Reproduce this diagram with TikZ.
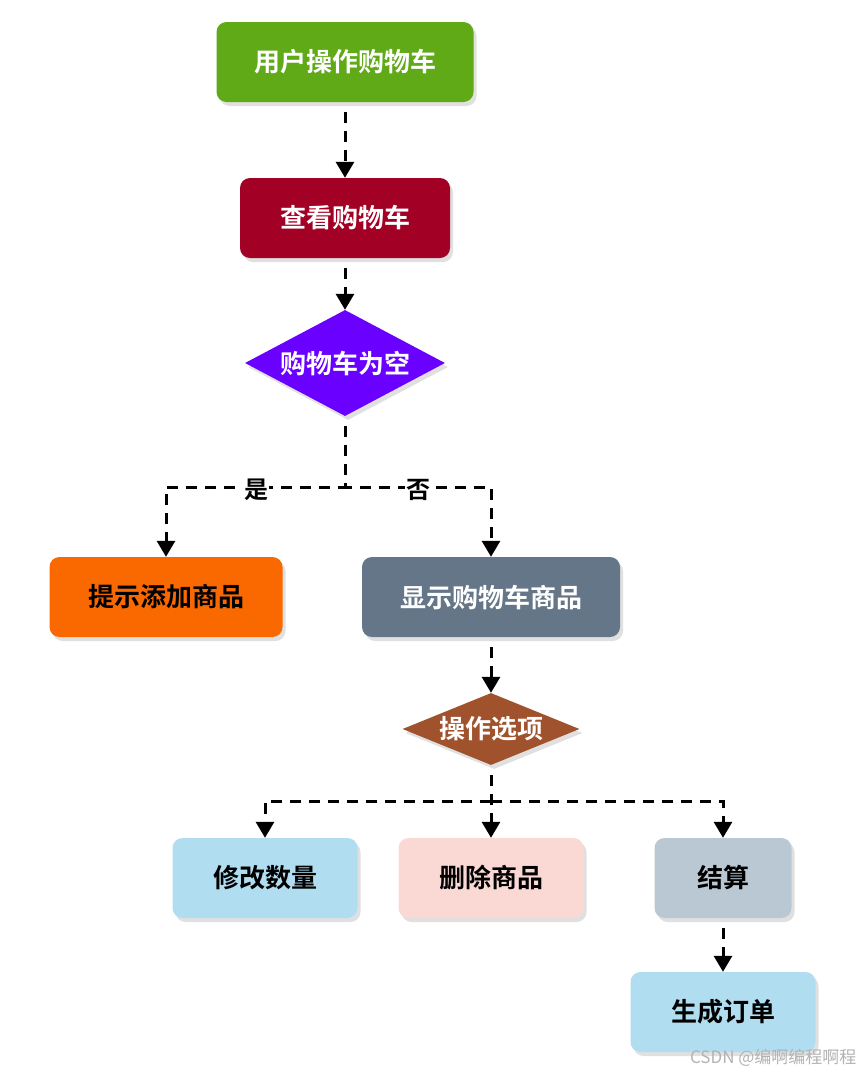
\documentclass[tikz,border=0pt]{standalone}
\usepackage{fontspec}
\setmainfont{Noto Sans CJK SC}[BoldFont={Noto Sans CJK SC Bold}]
\usetikzlibrary{shapes.geometric,shadows,arrows.meta}

\definecolor{cGreen}{HTML}{60A917}
\definecolor{cCrimson}{HTML}{A20025}
\definecolor{cViolet}{HTML}{6A00FF}
\definecolor{cOrange}{HTML}{FA6800}
\definecolor{cSlate}{HTML}{647687}
\definecolor{cSienna}{HTML}{A0522D}
\definecolor{cBlue}{HTML}{B1DDF0}
\definecolor{cPink}{HTML}{FAD9D5}
\definecolor{cGrey}{HTML}{BAC8D3}

\begin{document}
\begin{tikzpicture}[x=1pt, y=-1pt,
  shade/.style={drop shadow={shadow xshift=3pt, shadow yshift=-4pt, opacity=0.2, fill=black!60}},
  box/.style={shade, rounded corners=10pt, minimum height=80pt, inner sep=0pt,
    font=\fontsize{26}{29}\selectfont\bfseries},
  decision/.style={shade, diamond, inner sep=0pt, text=white,
    font=\fontsize{26}{29}\selectfont\bfseries},
  flow/.style={line width=3pt, dash pattern=on 11pt off 8pt,
    -{Triangle[width=18pt,length=16pt]}, shorten <=10pt},
  branch/.style={flow, shorten <=0pt},
  answer/.style={fill=white, inner sep=1pt, font=\fontsize{24}{27}\selectfont\bfseries},
  wmark/.style={text=black!30, font=\fontsize{17}{19}\selectfont}
]
  \useasboundingbox (0,0) rectangle (863,1074);

  % --- main column ---
  \node[box, fill=cGreen, text=white, minimum width=257pt] (n1) at (345,62) {用户操作购物车};
  \node[box, fill=cCrimson, text=white, minimum width=210pt] (n2) at (345,218) {查看购物车};
  \node[decision, fill=cViolet, aspect=1.9, minimum width=200pt, minimum height=106pt] (d1) at (345,363) {购物车为空};

  % --- yes / no ---
  \node[box, fill=cOrange, text=black, minimum width=233pt] (n3) at (166,597) {提示添加商品};
  \node[box, fill=cSlate, text=white, minimum width=258pt] (n4) at (491,597) {显示购物车商品};
  \node[decision, fill=cSienna, aspect=2.46, minimum width=177pt, minimum height=72pt] (d2) at (491,729) {操作选项};

  % --- options ---
  \node[box, fill=cBlue, text=black, minimum width=185pt] (n5) at (265,878) {修改数量};
  \node[box, fill=cPink, text=black, minimum width=185pt] (n6) at (491,878) {删除商品};
  \node[box, fill=cGrey, text=black, minimum width=137pt] (n7) at (723,878) {结算};
  \node[box, fill=cBlue, text=black, minimum width=185pt] (n8) at (723,1012) {生成订单};

  % --- junctions ---
  \coordinate (j1) at (345,487);
  \coordinate (j2) at (491,801);

  % --- connectors ---
  \draw[flow] (n1) -- (n2);
  \draw[flow] (n2) -- (d1);
  \draw[flow] (d1) -- (j1) -| (n3);
  \draw[flow] (d1) -- (j1) -| (n4);
  \node[answer] (lyes) at (256,490) {是};
  \node[answer] (lno) at (418,490) {否};
  \draw[flow] (n4) -- (d2);
  \draw[flow] (d2) -- (n6);
  \draw[branch] (j2) -| (n5);
  \draw[branch] (j2) -| (n7);
  \draw[flow] (n7) -- (n8);

  % --- watermark ---
  \node[wmark, anchor=east] (wm) at (860,1058) {CSDN @编啊编程啊程};

\end{tikzpicture}
\end{document}
